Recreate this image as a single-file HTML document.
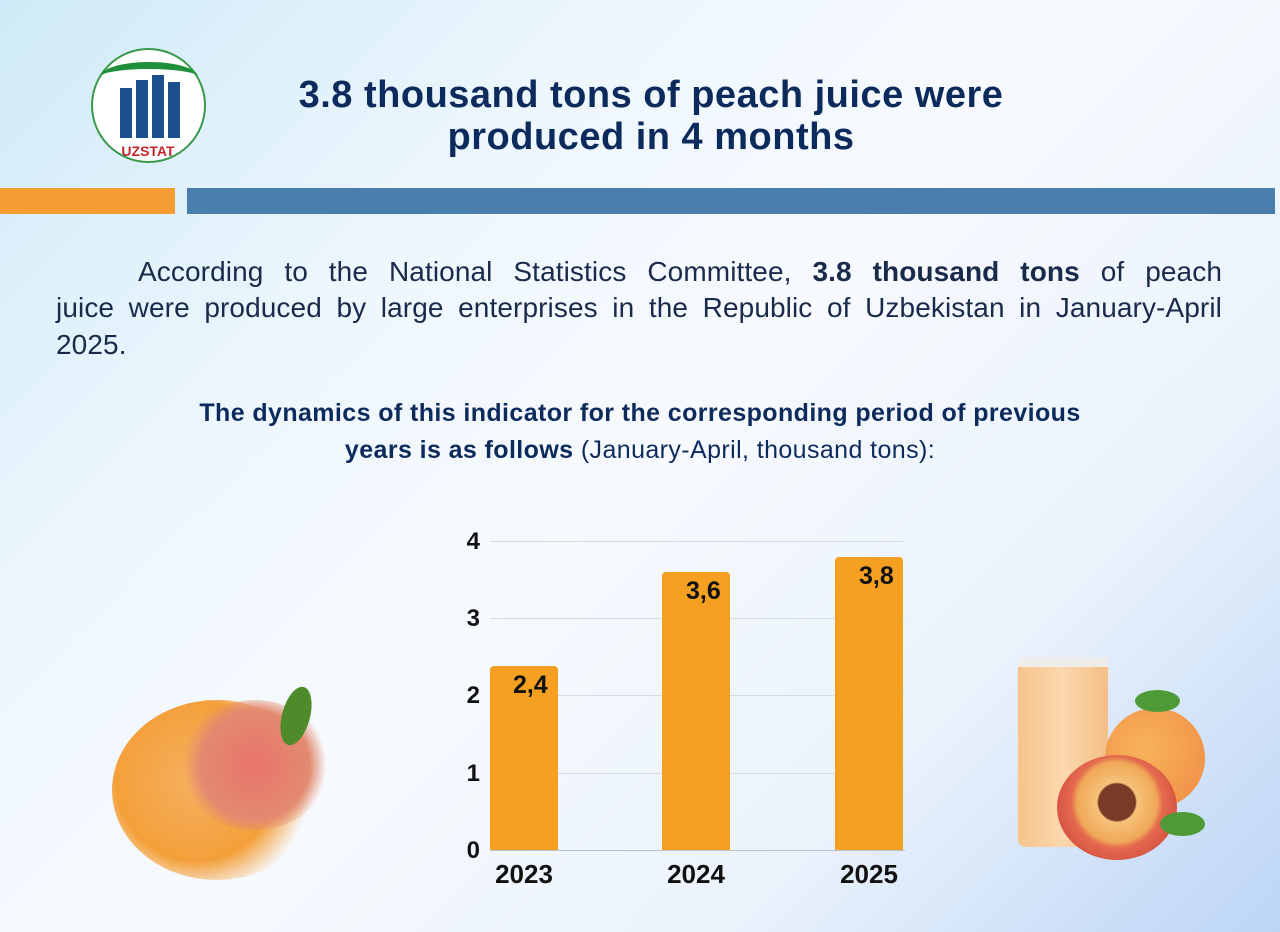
<!DOCTYPE html>
<html><head><meta charset="utf-8"><style>
*{margin:0;padding:0;box-sizing:border-box}
body{width:1280px;height:932px;overflow:hidden;position:relative;font-family:"Liberation Sans",sans-serif;
background:linear-gradient(135deg,#cfeaf8 0%,#eef7fd 30%,#f7fafe 50%,#eaf2fc 75%,#bcd5f6 100%);}
.abs{position:absolute}
.title{left:150px;width:1002px;top:74px;text-align:center;font-weight:bold;font-size:38px;line-height:42px;color:#0d2a5c;letter-spacing:0.5px}
.pl{left:56px;width:1166px;font-size:28px;line-height:36px;color:#1a2a4a;text-align:justify;text-align-last:justify;letter-spacing:0.1px;white-space:nowrap}
.sub{left:100px;width:1080px;top:395px;text-align:center;font-size:25px;line-height:37px;color:#0d2a5c;letter-spacing:0.4px}
.tick{font-weight:bold;font-size:24px;color:#111;width:32px;text-align:right;left:448px}
.grid{left:490px;width:415px;height:1px;background:#d5dbe3}
.bar{background:#f6a021;border-radius:4px 4px 0 0;width:68px}
.val{font-weight:bold;font-size:25px;color:#111}
.yr{font-weight:bold;font-size:26px;color:#111;top:859px;width:100px;text-align:center}
</style></head><body>
<div class="abs" style="left:91px;top:48px;width:115px;height:115px;border-radius:50%;background:#fff;border:2px solid #3a9a4a"></div>
<div class="abs" style="left:100px;top:62px;width:98px;height:30px;border-top:7px solid #1f8f3a;border-radius:50%"></div>
<div class="abs" style="left:120px;top:88px;width:12px;height:50px;background:#1d4f8f"></div>
<div class="abs" style="left:136px;top:80px;width:12px;height:58px;background:#1d4f8f"></div>
<div class="abs" style="left:152px;top:75px;width:12px;height:63px;background:#1d4f8f"></div>
<div class="abs" style="left:168px;top:82px;width:12px;height:56px;background:#1d4f8f"></div>
<div class="abs" style="left:118px;top:143px;width:60px;font-weight:bold;font-size:14px;color:#c0262c;text-align:center">UZSTAT</div>
<div class="abs title">3.8 thousand tons of peach juice were<br>produced in 4 months</div>
<div class="abs" style="left:0;top:188px;width:175px;height:26px;background:#f59d32"></div>
<div class="abs" style="left:187px;top:188px;width:1088px;height:26px;background:#4a7fad"></div>
<div class="abs pl" style="top:254px;left:138px;width:1084px">According to the National Statistics Committee, <b>3.8 thousand tons</b> of peach</div>
<div class="abs pl" style="top:290px">juice were produced by large enterprises in the Republic of Uzbekistan in January-April</div>
<div class="abs pl" style="top:327px;text-align-last:left">2025.</div>
<div class="abs sub"><b>The dynamics of this indicator for the corresponding period of previous<br>years is as follows</b> (January-April, thousand tons):</div>
<div class="abs grid" style="top:541px"></div>
<div class="abs grid" style="top:618px"></div>
<div class="abs grid" style="top:695px"></div>
<div class="abs grid" style="top:773px"></div>
<div class="abs grid" style="top:850px;background:#b8c0cc"></div>
<div class="abs tick" style="top:528px">4</div>
<div class="abs tick" style="top:605px">3</div>
<div class="abs tick" style="top:682px">2</div>
<div class="abs tick" style="top:760px">1</div>
<div class="abs tick" style="top:837px">0</div>
<div class="abs bar" style="left:490px;top:666px;height:184px"></div>
<div class="abs bar" style="left:662px;top:572px;height:278px"></div>
<div class="abs bar" style="left:835px;top:557px;height:293px"></div>
<div class="abs val" style="left:513px;top:671px">2,4</div>
<div class="abs val" style="left:686px;top:577px">3,6</div>
<div class="abs val" style="left:859px;top:562px">3,8</div>
<div class="abs yr" style="left:474px">2023</div>
<div class="abs yr" style="left:646px">2024</div>
<div class="abs yr" style="left:819px">2025</div>
<div class="abs" style="left:112px;top:700px;width:210px;height:180px;border-radius:50%;background:radial-gradient(circle at 40% 45%,#f6b060 0%,#f3a03a 50%,rgba(243,160,58,0) 72%)"></div>
<div class="abs" style="left:180px;top:700px;width:150px;height:130px;border-radius:50%;background:radial-gradient(circle at 50% 50%,#e8746a 0%,#e38a70 55%,rgba(230,130,100,0) 72%)"></div>
<div class="abs" style="left:282px;top:686px;width:28px;height:60px;border-radius:50%;background:#4f8a2b;transform:rotate(15deg)"></div>
<div class="abs" style="left:1018px;top:657px;width:90px;height:190px;background:linear-gradient(90deg,#f5c48c,#fbd8ae,#f4bf85);border-radius:3px 3px 8px 8px;border-top:10px solid #f0eeea"></div>
<div class="abs" style="left:1105px;top:708px;width:100px;height:100px;border-radius:50%;background:radial-gradient(circle at 40% 40%,#f8b35a,#ef8a45)"></div>
<div class="abs" style="left:1057px;top:755px;width:120px;height:105px;border-radius:50%;background:radial-gradient(circle at 50% 45%,#7a3b26 0%,#7a3b26 22%,#f5c27a 24%,#f0a858 48%,#e46a4e 55%,#d95845 70%)"></div>
<div class="abs" style="left:1135px;top:690px;width:45px;height:22px;border-radius:50%;background:#4e9a36"></div>
<div class="abs" style="left:1160px;top:812px;width:45px;height:24px;border-radius:50%;background:#4e9a36"></div>
</body></html>
